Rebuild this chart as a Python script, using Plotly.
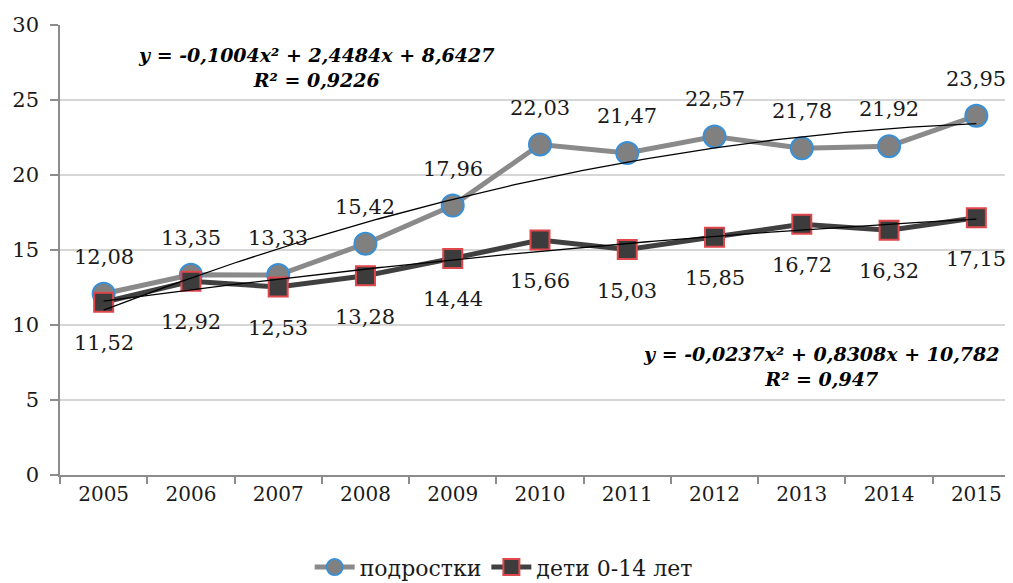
import numpy as np
import plotly.graph_objects as go

years = ["2005", "2006", "2007", "2008", "2009", "2010", "2011", "2012", "2013", "2014", "2015"]
teens = [12.08, 13.35, 13.33, 15.42, 17.96, 22.03, 21.47, 22.57, 21.78, 21.92, 23.95]
kids = [11.52, 12.92, 12.53, 13.28, 14.44, 15.66, 15.03, 15.85, 16.72, 16.32, 17.15]
teen_coef = [-0.1004, 2.4484, 8.6427]
kid_coef = [-0.0237, 0.8308, 10.782]
teen_eq = "y = -0,1004x² + 2,4484x + 8,6427<br>R² = 0,9226"
kid_eq = "y = -0,0237x² + 0,8308x + 10,782<br>R² = 0,947"
y_ticks = [0, 5, 10, 15, 20, 25, 30]

FONT = "DejaVu Serif"
xi = list(range(len(years)))

def fmt(v):
    return f"{v:.2f}".replace(".", ",")

fig = go.Figure()
fig.add_trace(go.Scatter(
    x=xi, y=teens, mode="lines+markers", name="подростки",
    line=dict(color="#8a8a8a", width=5),
    marker=dict(symbol="circle", size=22, color="#808080", line=dict(color="#3b8fd4", width=2)),
))
fig.add_trace(go.Scatter(
    x=xi, y=kids, mode="lines+markers", name="дети 0-14 лет",
    line=dict(color="#404040", width=5),
    marker=dict(symbol="square", size=19, color="#3c3c3c", line=dict(color="#e0474c", width=2)),
))

# polynomial trendlines from the displayed equations (x = 1..11)
t = np.linspace(1, len(years), 200)
for coef in (teen_coef, kid_coef):
    yt = np.polyval(coef, t)
    fig.add_trace(go.Scatter(x=t - 1, y=yt, mode="lines", showlegend=False,
                             line=dict(color="black", width=1.3), hoverinfo="skip"))

annotations = []
for i, v in enumerate(teens):
    annotations.append(dict(x=i, y=v, xref="x", yref="y", text=fmt(v), showarrow=False,
                            yshift=37, font=dict(family=FONT, size=21, color="#1a1a1a")))
for i, v in enumerate(kids):
    annotations.append(dict(x=i, y=v, xref="x", yref="y", text=fmt(v), showarrow=False,
                            yshift=-41, font=dict(family=FONT, size=21, color="#1a1a1a")))
annotations.append(dict(x=(316 - 60) / 953, y=(475 - 67) / 450, xref="paper", yref="paper",
                        xanchor="center", yanchor="middle",
                        text=f"<b><i>{teen_eq}</i></b>", showarrow=False, align="center",
                        font=dict(family=FONT, size=19, color="black")))
annotations.append(dict(x=(821 - 60) / 953, y=(475 - 366) / 450, xref="paper", yref="paper",
                        xanchor="center", yanchor="middle",
                        text=f"<b><i>{kid_eq}</i></b>", showarrow=False, align="center",
                        font=dict(family=FONT, size=19, color="black")))

fig.update_layout(
    width=1005, height=575,
    margin=dict(l=52, r=0, t=17, b=108, autoexpand=False),
    paper_bgcolor="white", plot_bgcolor="white",
    font=dict(family=FONT, size=21, color="#1a1a1a"),
    showlegend=True,
    legend=dict(orientation="h", x=0.262, xanchor="left", y=-0.205, yanchor="middle",
                font=dict(family=FONT, size=22, color="#1a1a1a"), itemwidth=40),
    annotations=annotations,
    xaxis=dict(
        range=[-0.5, 10.42], tickmode="array", tickvals=xi, ticktext=years,
        ticks="", showgrid=False, zeroline=False, automargin=False,
        ticklabeloverflow="allow",
        showline=True, linecolor="#8c8c8c", linewidth=1.5,
        tickfont=dict(family=FONT, size=20, color="#1a1a1a"),
        minor=dict(tickmode="array", tickvals=[i - 0.5 for i in range(len(years) + 1)],
                   ticks="outside", ticklen=7, tickcolor="#8c8c8c", tickwidth=1.5, showgrid=False),
    ),
    yaxis=dict(
        range=[0, 30], tickmode="array", tickvals=y_ticks, automargin=False,
        ticks="outside", ticklen=8, tickcolor="#8c8c8c", tickwidth=1.5,
        ticklabelstandoff=7,
        showgrid=True, gridcolor="#d6d6d6", gridwidth=2, zeroline=False,
        showline=True, linecolor="#8c8c8c", linewidth=1.5,
        tickfont=dict(family=FONT, size=21, color="#1a1a1a"),
    ),
)

fig.write_html("out.html")
